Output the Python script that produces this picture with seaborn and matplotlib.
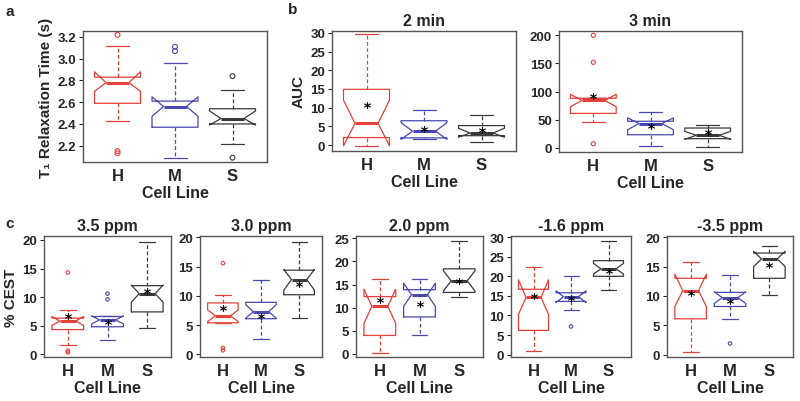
import matplotlib
matplotlib.use("Agg")
import matplotlib.pyplot as plt
import seaborn as sns
import pandas as pd

# =========================
# SETTINGS
# =========================
sns.set_style("white")
plt.rcParams["font.family"] = ["Liberation Sans", "DejaVu Sans"]
plt.rcParams["font.weight"] = "bold"

CELL_LINES = ["H", "M", "S"]
COLORS = ["#e5413b", "#4848b0", "#3a3a3a"]

# =========================
# DATA
# box rows: whisker low, Q1, median, Q3, whisker high, notch low, notch high
# =========================
T1_BOX = [[2.43, 2.59, 2.78, 2.83, 3.12, 2.70, 2.88],
          [2.09, 2.37, 2.56, 2.61, 2.96, 2.47, 2.65],
          [2.22, 2.40, 2.45, 2.54, 2.71, 2.39, 2.52]]
T1_FLIERS = [[3.22, 2.15, 2.13], [3.11, 3.07], [2.84, 2.09]]
T1_MEANS = None

AUC2_BOX = [[-0.2, 2.0, 5.8, 14.9, 29.7, -0.2, 12.0],
            [1.6, 1.9, 3.7, 6.5, 9.4, 1.5, 6.0],
            [0.7, 2.5, 3.2, 5.2, 8.0, 2.1, 4.5]]
AUC2_FLIERS = [[], [], []]
AUC2_MEANS = [10.7, 4.3, 3.9]

AUC3_BOX = [[45, 61, 84, 88, 88, 73, 95],
            [3, 23, 43, 47, 63, 32, 53],
            [1, 16, 22, 35, 41, 15, 29]]
AUC3_FLIERS = [[200, 152, 7], [], []]
AUC3_MEANS = [92, 38, 28]

CEST35_BOX = [[1.6, 4.3, 5.8, 6.3, 7.8, 5.0, 6.6],
              [2.4, 4.8, 6.0, 6.6, 6.6, 5.3, 6.7],
              [4.5, 7.4, 10.6, 12.0, 19.6, 9.1, 12.1]]
CEST35_FLIERS = [[14.3, 0.6, 0.3], [10.6, 9.6], []]
CEST35_MEANS = [6.6, 5.6, 11.0]

CEST30_BOX = [[5.4, 5.4, 6.6, 8.8, 10.1, 5.6, 7.6],
              [2.7, 6.1, 7.3, 8.9, 12.8, 6.2, 8.5],
              [6.3, 10.2, 12.8, 14.4, 19.3, 11.0, 14.5]]
CEST30_FLIERS = [[15.6, 1.1, 0.7], [], []]
CEST30_MEANS = [8.0, 6.6, 12.0]

CEST20_BOX = [[0.3, 4.0, 10.3, 12.4, 16.2, 6.6, 14.0],
              [4.2, 8.0, 12.8, 13.9, 16.1, 10.3, 15.3],
              [12.4, 13.3, 15.8, 18.4, 24.4, 13.6, 18.0]]
CEST20_FLIERS = [[], [], []]
CEST20_MEANS = [11.6, 10.9, 15.7]

CESTM16_BOX = [[1.0, 6.2, 14.6, 16.7, 22.3, 10.3, 19.1],
               [11.4, 13.6, 14.8, 15.8, 20.2, 13.3, 16.3],
               [16.5, 20.0, 21.9, 24.0, 29.0, 20.6, 23.3]]
CESTM16_FLIERS = [[], [7.2], []]
CESTM16_MEANS = [15.1, 14.5, 21.3]

CESTM35_BOX = [[0.4, 6.1, 10.9, 13.0, 15.7, 8.2, 13.7],
               [6.0, 8.2, 9.7, 10.6, 13.6, 8.7, 10.7],
               [10.1, 13.0, 16.3, 17.3, 18.5, 15.0, 17.6]]
CESTM35_FLIERS = [[], [1.9], []]
CESTM35_MEANS = [10.5, 9.2, 15.3]

W, H = 800, 402


def px_axes(fig, x0, y0, x1, y1):
    """Add axes from pixel box (top-left origin)."""
    return fig.add_axes([x0 / W, 1 - y1 / H, (x1 - x0) / W, (y1 - y0) / H])


def draw_panel(ax, box, fliers, means, ylim, yticks, title=None, ylabel=None,
               fmt="%d", flier_size=3.5):
    # notched boxes, one per cell line
    for i, (vals, color) in enumerate(zip(box, COLORS)):
        lo, q1, med, q3, hi, cilo, cihi = vals
        stats = [dict(whislo=lo, q1=q1, med=med, q3=q3, whishi=hi,
                      cilo=cilo, cihi=cihi, fliers=[])]
        ax.bxp(stats, positions=[i], widths=0.8, shownotches=True,
               showfliers=False, manage_ticks=False,
               boxprops=dict(color=color, lw=0.9),
               medianprops=dict(color=color, lw=2.2),
               whiskerprops=dict(color=color, lw=0.9, ls=(0, (3, 2))),
               capprops=dict(color=color, lw=0.9))

    # outliers
    df = pd.DataFrame({
        "cell": [c for c, f in zip(CELL_LINES, fliers) for _ in f],
        "value": [v for f in fliers for v in f],
    })
    if len(df):
        n0 = len(ax.collections)
        sns.stripplot(data=df, x="cell", y="value", hue="cell", order=CELL_LINES,
                      hue_order=CELL_LINES, palette=COLORS, jitter=False,
                      size=flier_size, linewidth=0, legend=False, ax=ax)
        for coll in ax.collections[n0:]:
            fc = coll.get_facecolors()
            coll.set_edgecolors(fc)
            coll.set_facecolors("none")
            coll.set_linewidths(0.8)

    # means
    if means is not None:
        sns.stripplot(x=CELL_LINES, y=means, order=CELL_LINES, color="black",
                      marker="$*$", size=5, jitter=False, linewidth=0, ax=ax)

    ax.set_xlim(-0.6, 2.6)
    ax.set_ylim(*ylim)
    ax.set_xticks([0, 1, 2], CELL_LINES, fontweight="bold", fontsize=12)
    ax.set_yticks(yticks, [fmt % v for v in yticks], fontweight="bold", fontsize=9.5)
    ax.tick_params(axis="x", length=0, pad=4)
    ax.tick_params(axis="y", length=3, width=0.8, pad=2, left=True)
    for sp in ax.spines.values():
        sp.set_color("#555555")
        sp.set_linewidth(1.0)
    ax.set_xlabel("Cell Line", fontsize=11.5, fontweight="bold", labelpad=2)
    ax.set_ylabel(ylabel if ylabel else "", fontsize=11, fontweight="bold", labelpad=3)
    if title:
        ax.set_title(title, fontsize=11.5, fontweight="bold", pad=4)


fig = plt.figure(figsize=(8, 4.02), dpi=100)

ax = px_axes(fig, 83, 32, 267, 163)
draw_panel(ax, T1_BOX, T1_FLIERS, T1_MEANS, (2.05, 3.255),
           [2.2, 2.4, 2.6, 2.8, 3.0, 3.2], ylabel="T\u2081 Relaxation Time (s)", fmt="%.1f")

ax = px_axes(fig, 332, 32, 516, 152)
draw_panel(ax, AUC2_BOX, AUC2_FLIERS, AUC2_MEANS, (-1.6, 30.5),
           [0, 5, 10, 15, 20, 25, 30], title="2 min", ylabel="AUC")

ax = px_axes(fig, 559, 32, 742, 153)
draw_panel(ax, AUC3_BOX, AUC3_FLIERS, AUC3_MEANS, (-7.7, 207.7),
           [0, 50, 100, 150, 200], title="3 min", flier_size=3)

bottom_panels = [
    ((44, 171), CEST35_BOX, CEST35_FLIERS, CEST35_MEANS, (-0.5, 20.7), [0, 5, 10, 15, 20], "3.5 ppm", "% CEST"),
    ((200, 322), CEST30_BOX, CEST30_FLIERS, CEST30_MEANS, (-0.45, 20.25), [0, 5, 10, 15, 20], "3.0 ppm", None),
    ((356, 483), CEST20_BOX, CEST20_FLIERS, CEST20_MEANS, (-0.66, 25.5), [0, 5, 10, 15, 20, 25], "2.0 ppm", None),
    ((511, 631), CESTM16_BOX, CESTM16_FLIERS, CESTM16_MEANS, (-0.6, 30.3), [0, 5, 10, 15, 20, 25, 30], "-1.6 ppm", None),
    ((667, 793), CESTM35_BOX, CESTM35_FLIERS, CESTM35_MEANS, (-0.4, 20.2), [0, 5, 10, 15, 20], "-3.5 ppm", None),
]
for (x0, x1), box, fl, mn, ylim, yt, title, ylab in bottom_panels:
    ax = px_axes(fig, x0, 237, x1, 358)
    draw_panel(ax, box, fl, mn, ylim, yt, title=title, ylabel=ylab, flier_size=2.5)

# panel letters
fig.text(10 / W, 1 - 12 / H, "a", fontsize=11, fontweight="bold", ha="center", va="center")
fig.text(293 / W, 1 - 10 / H, "b", fontsize=11, fontweight="bold", ha="center", va="center")
fig.text(10 / W, 1 - 224 / H, "c", fontsize=11, fontweight="bold", ha="center", va="center")

fig.savefig("out.png", dpi=100)
